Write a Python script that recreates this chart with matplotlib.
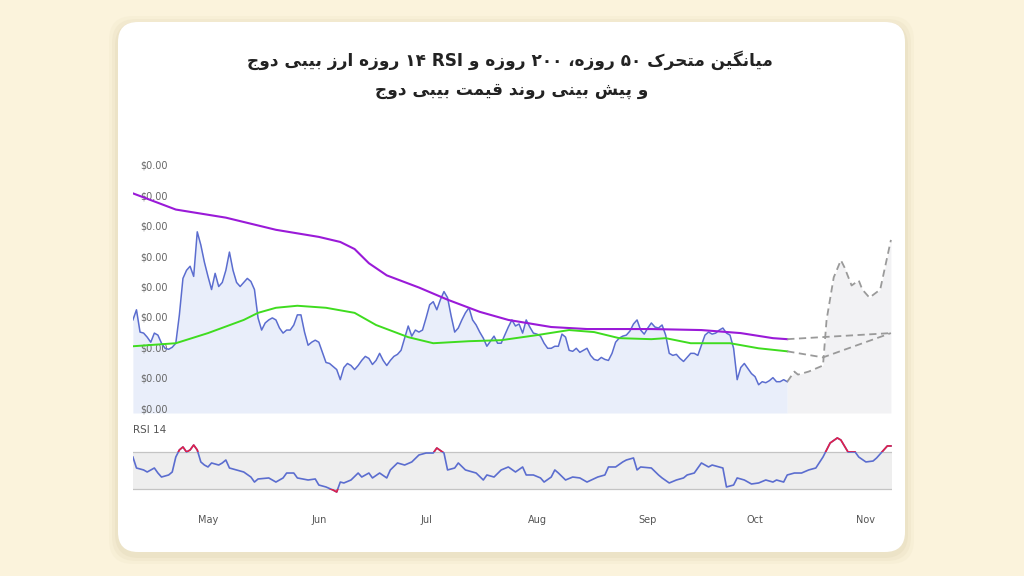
import numpy as np
import matplotlib
matplotlib.use("Agg")
import matplotlib.pyplot as plt
import matplotlib.dates as mdates
import matplotlib.transforms as mtransforms
from matplotlib.patches import FancyBboxPatch, Rectangle
from matplotlib.ticker import FuncFormatter, FixedLocator

# ---- data (day 0 = 1 May 2024, price in 1e-9 USD) ----
start = np.datetime64("2024-05-01")

price_first_day = -21
price = [
    2.07, 2.17, 1.95, 1.94, 1.90, 1.85, 1.94, 1.92, 1.84, 1.79,
    1.78, 1.80, 1.84, 2.12, 2.48, 2.56, 2.60, 2.50, 2.94, 2.81,
    2.64, 2.50, 2.37, 2.53, 2.40, 2.44, 2.56, 2.74, 2.56, 2.44,
    2.40, 2.44, 2.48, 2.45, 2.37, 2.09, 1.97, 2.04, 2.07, 2.09,
    2.07, 1.99, 1.94, 1.97, 1.97, 2.02, 2.12, 2.12, 1.95, 1.82,
    1.85, 1.87, 1.85, 1.75, 1.65, 1.64, 1.61, 1.58, 1.48, 1.60,
    1.64, 1.62, 1.58, 1.62, 1.67, 1.71, 1.69, 1.63, 1.67, 1.74,
    1.67, 1.62, 1.67, 1.71, 1.73, 1.77, 1.89, 2.01, 1.91, 1.97,
    1.95, 1.97, 2.09, 2.22, 2.25, 2.17, 2.27, 2.35, 2.29, 2.11,
    1.95, 1.99, 2.07, 2.14, 2.19, 2.07, 2.02, 1.95, 1.89, 1.81,
    1.86, 1.91, 1.84, 1.84, 1.92, 2.00, 2.07, 2.01, 2.03, 1.94,
    2.07, 2.00, 1.94, 1.93, 1.91, 1.84, 1.79, 1.79, 1.81, 1.81,
    1.93, 1.90, 1.77, 1.76, 1.79, 1.75, 1.77, 1.79, 1.72, 1.68,
    1.67, 1.70, 1.68, 1.67, 1.74, 1.85, 1.89, 1.91, 1.92, 1.96,
    2.03, 2.07, 1.97, 1.93, 1.99, 2.04, 2.00, 1.99, 2.02, 1.92,
    1.74, 1.72, 1.73, 1.69, 1.66, 1.70, 1.74, 1.74, 1.72, 1.82,
    1.92, 1.95, 1.93, 1.94, 1.97, 1.99, 1.94, 1.92, 1.79, 1.48,
    1.60, 1.64, 1.59, 1.54, 1.51, 1.43, 1.46, 1.45, 1.47, 1.50,
    1.46, 1.46, 1.48, 1.46,
]

ma200_days = [-21, -9, 5, 19, 31, 37, 41, 45, 50, 59, 67, 76, 84, 96, 106, 124, 138, 149, 158, 162]
ma200 = [3.32, 3.16, 3.08, 2.96, 2.89, 2.84, 2.77, 2.63, 2.51, 2.39, 2.27, 2.15, 2.07, 2.00, 1.98, 1.98, 1.97, 1.94, 1.89, 1.88]

ma50_days = [-21, -9, 0, 10, 14, 19, 25, 33, 41, 47, 56, 63, 73, 82, 92, 101, 108, 115, 124, 128, 135, 146, 154, 162]
ma50 = [1.81, 1.84, 1.94, 2.07, 2.14, 2.19, 2.21, 2.19, 2.14, 2.02, 1.90, 1.84, 1.86, 1.87, 1.92, 1.97, 1.95, 1.89, 1.88, 1.89, 1.84, 1.84, 1.79, 1.76]

forecast_days = [162, 164, 165, 168, 172, 173, 175, 177, 178, 180, 182, 183, 185, 188, 191]
forecast = [1.46, 1.56, 1.53, 1.56, 1.62, 2.07, 2.49, 2.66, 2.59, 2.41, 2.46, 2.37, 2.29, 2.37, 2.86]
ma200_fc_days = [162, 191]
ma200_fc = [1.88, 1.94]
ma50_fc_days = [162, 172, 191]
ma50_fc = [1.76, 1.70, 1.94]

rsi_days = [-21, -20, -18, -17, -15, -14, -13, -11, -10, -9, -8, -7, -6, -5, -4, -3, -2, -1, 0, 1,
            3, 4, 5, 6, 8, 10, 12, 13, 14, 17, 19, 21, 22, 24, 25, 28, 30, 31, 33, 35,
            36, 37, 38, 40, 42, 43, 45, 46, 48, 50, 51, 53, 55, 57, 59, 61, 63, 64, 66, 67,
            69, 70, 72, 75, 77, 78, 80, 82, 84, 86, 88, 89, 91, 93, 94, 96, 97, 98, 100, 102,
            104, 106, 109, 111, 112, 114, 116, 117, 119, 120, 121, 124, 126, 127, 129, 131, 133, 134, 136, 138,
            140, 141, 143, 144, 145, 147, 148, 150, 152, 154, 156, 158, 159, 161, 162, 164, 166, 168, 170, 172,
            173, 174, 176, 177, 179, 181, 182, 184, 186, 187, 189, 190, 191]
rsi = [64.7, 52.9, 50.8, 48.6, 52.9, 47.5, 43.2, 45.4, 48.6, 64.7, 72.3, 75.5, 70.1, 72.3, 77.6, 72.3, 59.4, 56.1, 54.0, 58.3,
       56.1, 58.3, 61.5, 52.9, 50.8, 48.6, 43.2, 37.8, 41.1, 42.2, 37.8, 42.2, 47.5, 47.5, 42.2, 40.0, 41.1, 34.6, 32.5, 29.2,
       27.1, 37.8, 36.8, 40.0, 47.5, 43.2, 47.5, 42.2, 47.5, 42.2, 50.8, 58.3, 56.1, 59.4, 66.9, 69.0, 69.0, 74.4, 69.0, 50.8,
       52.9, 58.3, 50.8, 47.5, 40.0, 45.4, 43.2, 50.8, 54.0, 48.6, 54.0, 45.4, 45.4, 42.2, 37.8, 43.2, 50.8, 47.5, 40.0, 43.2,
       42.2, 37.8, 43.2, 45.4, 54.0, 54.0, 59.4, 61.5, 63.7, 50.8, 54.0, 52.9, 45.4, 42.2, 36.8, 40.0, 42.2, 45.4, 47.5, 58.3,
       54.0, 56.1, 54.0, 52.9, 32.5, 34.6, 42.2, 40.0, 35.7, 36.8, 40.0, 37.8, 40.0, 37.8, 45.4, 47.5, 47.5, 50.8, 52.9, 64.7,
       72.3, 79.8, 85.2, 83.0, 70.1, 70.1, 64.7, 59.4, 60.4, 63.7, 72.3, 76.6, 76.6]

title_line1 = "میانگین متحرک ۵۰ روزه، ۲۰۰ روزه و RSI ۱۴ روزه ارز بیبی دوج"
title_line2 = "و پیش بینی روند قیمت بیبی دوج"

# ---- simple Persian shaping (matplotlib has no RTL/joining support) ----
FORMS = {
    "ا": ("\uFE8D", "\uFE8E", None, None),
    "ب": ("\uFE8F", "\uFE90", "\uFE91", "\uFE92"),
    "پ": ("\uFB56", "\uFB57", "\uFB58", "\uFB59"),
    "ت": ("\uFE95", "\uFE96", "\uFE97", "\uFE98"),
    "ج": ("\uFE9D", "\uFE9E", "\uFE9F", "\uFEA0"),
    "ح": ("\uFEA1", "\uFEA2", "\uFEA3", "\uFEA4"),
    "د": ("\uFEA9", "\uFEAA", None, None),
    "ر": ("\uFEAD", "\uFEAE", None, None),
    "ز": ("\uFEAF", "\uFEB0", None, None),
    "ش": ("\uFEB5", "\uFEB6", "\uFEB7", "\uFEB8"),
    "ق": ("\uFED5", "\uFED6", "\uFED7", "\uFED8"),
    "ک": ("\uFB8E", "\uFB8F", "\uFB90", "\uFB91"),
    "گ": ("\uFB92", "\uFB93", "\uFB94", "\uFB95"),
    "م": ("\uFEE1", "\uFEE2", "\uFEE3", "\uFEE4"),
    "ن": ("\uFEE5", "\uFEE6", "\uFEE7", "\uFEE8"),
    "ه": ("\uFEE9", "\uFEEA", "\uFEEB", "\uFEEC"),
    "و": ("\uFEED", "\uFEEE", None, None),
    "ی": ("\uFBFC", "\uFBFD", "\uFBFE", "\uFBFF"),
}


def shape_word(word):
    out = []
    for i, ch in enumerate(word):
        if ch not in FORMS:
            out.append(ch)
            continue
        iso, fin, ini, med = FORMS[ch]
        prev = word[i - 1] if i > 0 else ""
        nxt = word[i + 1] if i + 1 < len(word) else ""
        join_prev = prev in FORMS and FORMS[prev][2] is not None
        join_next = ini is not None and nxt in FORMS
        if join_prev and join_next:
            out.append(med)
        elif join_prev:
            out.append(fin)
        elif join_next:
            out.append(ini)
        else:
            out.append(iso)
    return "".join(reversed(out))


def rtl(text):
    vis = []
    for w in reversed(text.split(" ")):
        vis.append(shape_word(w) if any(c in FORMS for c in w) else w)
    return " ".join(vis)


def to_num(days):
    return mdates.date2num(start + np.array(days, dtype="timedelta64[D]"))


price_days = list(range(price_first_day, price_first_day + len(price)))
x_price = to_num(price_days)

# ---- figure ----
fig = plt.figure(figsize=(10.24, 5.76), dpi=100)
fig.patch.set_facecolor("#fbf3dc")

# card with soft shadow
for i, a in enumerate([0.05, 0.07, 0.09]):
    g = 0.09 - i * 0.03
    fig.add_artist(FancyBboxPatch((1.18 - g, 0.24 - g - 0.03), 7.87 + 2 * g, 5.30 + 2 * g,
                                  boxstyle="round,pad=0,rounding_size=0.24",
                                  transform=fig.dpi_scale_trans, fc="#b8a878", ec="none",
                                  alpha=a, zorder=0))
fig.add_artist(FancyBboxPatch((1.18, 0.24), 7.87, 5.30, boxstyle="round,pad=0,rounding_size=0.2",
                              transform=fig.dpi_scale_trans, fc="white", ec="none", zorder=0))

fig.text(0.498, 1 - 60 / 576, rtl(title_line1), ha="center", va="center",
         fontsize=12.2, fontweight="bold", color="#222222", family="DejaVu Sans")
fig.text(0.5, 1 - 90 / 576, rtl(title_line2), ha="center", va="center",
         fontsize=12.2, fontweight="bold", color="#222222", family="DejaVu Sans")

xmin = mdates.date2num(start) - 20.97
xmax = mdates.date2num(start) + 191.3

# ---- price panel ----
ax = fig.add_axes([133 / 1024, 1 - 413 / 576, 759 / 1024, 263 / 576])
ax.set_facecolor("none")
ax.set_xlim(xmin, xmax)
ax.set_ylim(1.151, 3.748)

ax.fill_between(x_price, price, 1.151, color="#e9eefa", lw=0)
ax.fill_between(to_num(forecast_days), forecast, 1.151, color="#f2f2f4", lw=0)
ax.plot(x_price, price, color="#5b6dcf", lw=1.1)
ax.plot(to_num(ma200_days), ma200, color="#9a1ad8", lw=1.5)
ax.plot(to_num(ma50_days), ma50, color="#3fdc1f", lw=1.4)
dash = dict(color="#9a9a9a", lw=1.3, ls=(0, (4, 2.5)))
ax.plot(to_num(forecast_days), forecast, **dash)
ax.plot(to_num(ma200_fc_days), ma200_fc, **dash)
ax.plot(to_num(ma50_fc_days), ma50_fc, **dash)

ax.yaxis.set_major_locator(FixedLocator(np.arange(1.2, 3.61, 0.3)))
ax.yaxis.set_major_formatter(FuncFormatter(lambda v, p: f"${v * 1e-9:.2f}"))
ax.tick_params(axis="y", length=0, pad=-5.5, labelsize=7, labelcolor="#666666")
for lab in ax.get_yticklabels():
    lab.set_horizontalalignment("left")
ax.set_xticks([])
for s in ax.spines.values():
    s.set_visible(False)

# ---- RSI panel ----
ax2 = fig.add_axes([133 / 1024, 1 - 500 / 576, 759 / 1024, 64 / 576])
ax2.set_facecolor("none")
ax2.set_xlim(xmin, xmax)
ax2.set_ylim(18.5, 87.3)
ax2.axhspan(30, 70, color="#eeeeee", lw=0)
ax2.axhline(70, color="#c4c4c4", lw=0.9)
ax2.axhline(30, color="#c4c4c4", lw=0.9)
x_rsi = to_num(rsi_days)
blend = mtransforms.blended_transform_factory(ax2.transAxes, ax2.transData)
ax2.plot(x_rsi, rsi, color="#5b6dcf", lw=1.2)
for y0, h in [(70, 30), (0, 30)]:
    red = ax2.plot(x_rsi, rsi, color="#e0204a", lw=1.2)[0]
    red.set_clip_path(Rectangle((0, y0), 1, h, transform=blend))
ax2.set_yticks([])
ax2.xaxis.set_major_locator(mdates.MonthLocator())
ax2.xaxis.set_major_formatter(mdates.DateFormatter("%b"))
ax2.tick_params(axis="x", length=0, pad=10.5, labelsize=7, labelcolor="#555555")
for s in ax2.spines.values():
    s.set_visible(False)
fig.text(133 / 1024, 1 - 430 / 576, "RSI 14", ha="left", va="center", fontsize=7.5, color="#555555")

fig.savefig("out.png", dpi=100, facecolor=fig.get_facecolor())
